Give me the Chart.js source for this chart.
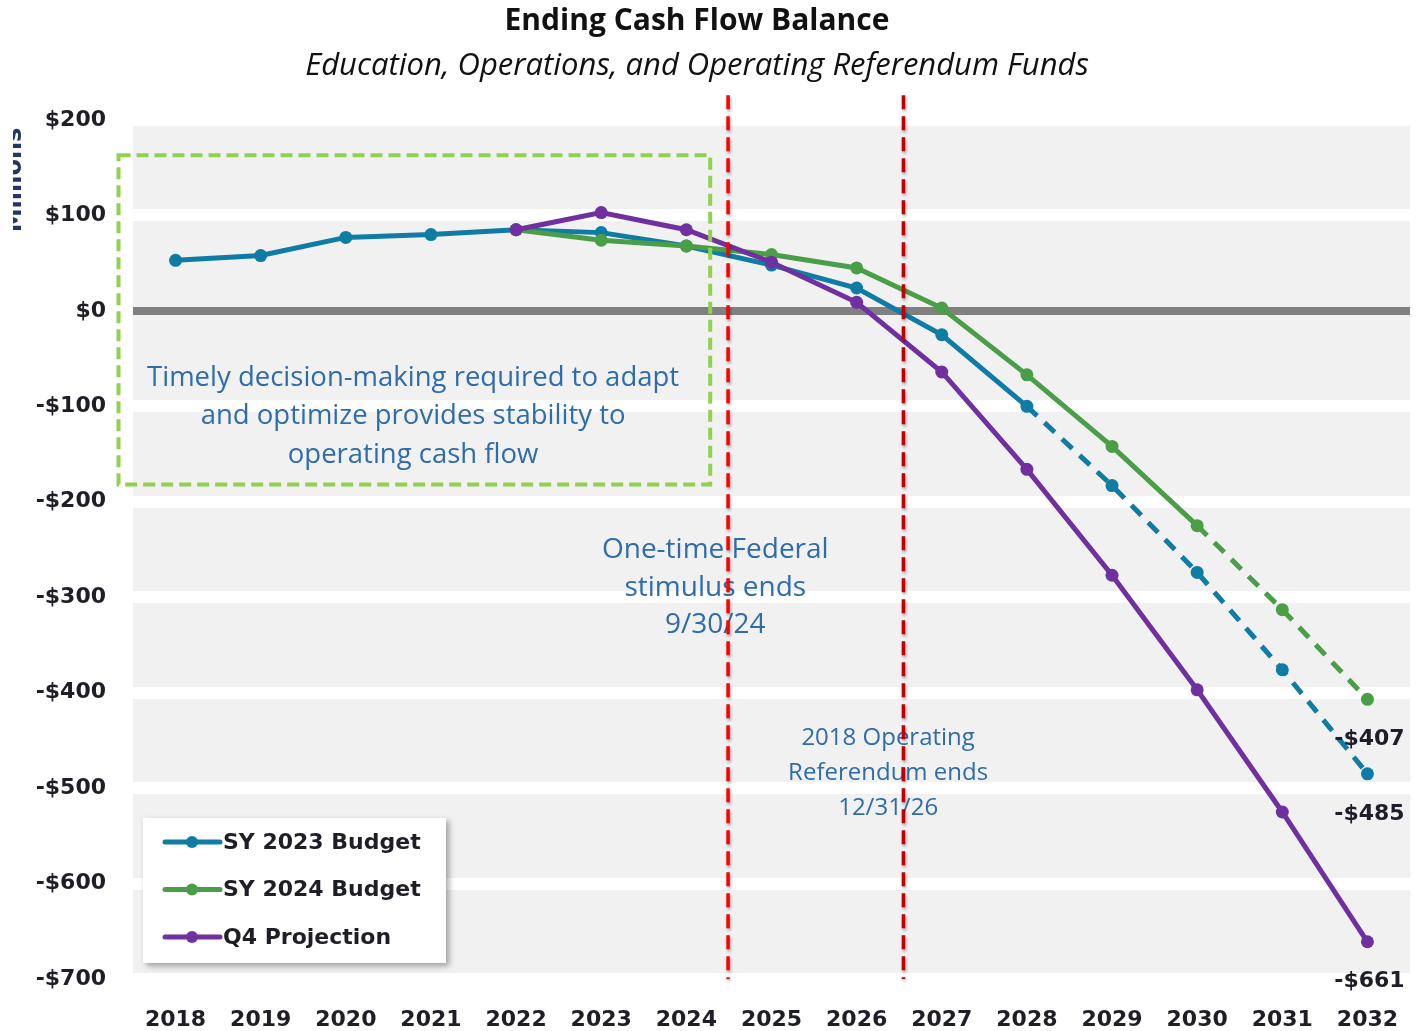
<!DOCTYPE html>
<html>
<head>
<meta charset="utf-8">
<script src="https://cdn.jsdelivr.net/npm/chart.js@4.4.1/dist/chart.umd.min.js"></script>
<style>
  html, body { margin: 0; padding: 0; background: #fff; }
  #wrap { width: 1418px; height: 1031px; position: relative; }
</style>
</head>
<body>
<div id="wrap"><canvas id="chart"></canvas></div>
<script>
'use strict';

const years = ['2018', '2019', '2020', '2021', '2022', '2023', '2024', '2025',
  '2026', '2027', '2028', '2029', '2030', '2031', '2032'];
const sy2023Budget = [53, 58, 77, 80, 85, 82, 68, 48, 24, -25, -100, -183, -274, -376, -485];
const sy2024Budget = [null, null, null, null, 85, 74, 68, 59, 45, 3, -67, -142, -225, -313, -407];
const q4Projection = [null, null, null, null, 85, 103, 85, 51, 9, -64, -166, -277, -397, -525, -661];
const seriesNames = ['SY 2023 Budget', 'SY 2024 Budget', 'Q4 Projection'];
const seriesColors = ['#0f7ca6', '#4a9e48', '#7030a0'];
const dashFrom = [10, 12, null]; // index where a series turns dashed
const yTicks = [200, 100, 0, -100, -200, -300, -400, -500, -600, -700];

const titleText = 'Ending Cash Flow Balance';
const subtitleText = 'Education, Operations, and Operating Referendum Funds';
const boxNote = ['Timely decision-making required to adapt', 'and optimize provides stability to', 'operating cash flow'];
const stimulusNote = ['One-time Federal', 'stimulus ends', '9/30/24'];
const referendumNote = ['2018 Operating', 'Referendum ends', '12/31/26'];

const tickFont = '"DejaVu Sans", sans-serif';
const noteFont = '"Open Sans", sans-serif';
const noteColor = '#2e6cab';

function money(v) {
  return (v < 0 ? '-$' : '$') + Math.abs(v);
}

const extras = {
  id: 'extras',
  beforeDraw(chart) {
    const { ctx, chartArea: a } = chart;
    ctx.save();
    ctx.fillStyle = '#f1f1f1';
    ctx.fillRect(a.left, a.top, a.right - a.left, a.bottom - a.top);
    ctx.restore();
  },
  afterDatasetsDraw(chart) {
    const { ctx, scales: { x, y } } = chart;
    ctx.save();

    // end labels
    ctx.font = 'bold 22px ' + tickFont;
    ctx.fillStyle = '#1e1e28';
    ctx.textAlign = 'center';
    ctx.textBaseline = 'middle';
    chart.data.datasets.forEach((ds, i) => {
      const last = ds.data.length - 1;
      const v = ds.data[last];
      ctx.fillText(money(v), x.getPixelForValue(last) + 2, y.getPixelForValue(v) + 40);
    });

    // notes
    function note(lines, xi, yv, size, step) {
      ctx.font = size + 'px ' + noteFont;
      ctx.fillStyle = noteColor;
      lines.forEach((t, k) => {
        ctx.fillText(t, x.getPixelForValue(xi), y.getPixelForValue(yv) + k * step);
      });
    }
    note(boxNote, 2.79, -70, 27.5, 38.5);
    note(stimulusNote, 6.34, -251, 28, 37.5);
    note(referendumNote, 8.37, -448, 24, 35);

    // green box
    ctx.strokeStyle = '#92d050';
    ctx.lineWidth = 4;
    ctx.setLineDash([12, 6]);
    const bx0 = x.getPixelForValue(-0.67), bx1 = x.getPixelForValue(6.28);
    const by0 = y.getPixelForValue(163), by1 = y.getPixelForValue(-182);
    ctx.strokeRect(bx0, by0, bx1 - bx0, by1 - by0);

    // red dashed markers
    ctx.setLineDash([14, 7]);
    ctx.lineWidth = 3.5;
    ctx.shadowColor = 'rgba(0,0,0,0.35)';
    ctx.shadowBlur = 3;
    ctx.shadowOffsetX = 1;
    ctx.shadowOffsetY = 2;
    [[6.49, '#ff0000'], [8.55, '#c00000']].forEach(([xi, c]) => {
      const px = x.getPixelForValue(xi);
      ctx.strokeStyle = c;
      ctx.beginPath();
      ctx.moveTo(px, y.getPixelForValue(226));
      ctx.lineTo(px, y.getPixelForValue(-700));
      ctx.stroke();
    });
    ctx.restore();
  },
  afterDraw(chart) {
    const { ctx, chartArea: a } = chart;
    ctx.save();
    // title and subtitle
    ctx.textAlign = 'center';
    ctx.textBaseline = 'middle';
    ctx.fillStyle = '#111';
    ctx.font = 'bold 30px "Open Sans", sans-serif';
    ctx.fillText(titleText, 697, 21);
    ctx.font = 'italic 31px "Open Sans", sans-serif';
    ctx.fillText(subtitleText, 697, 66);

    // axis title, clipped at the left edge like the source
    ctx.save();
    ctx.beginPath();
    ctx.rect(13, 100, 30, 160);
    ctx.clip();
    ctx.translate(21, 180);
    ctx.rotate(-Math.PI / 2);
    ctx.font = 'bold 24px ' + tickFont;
    ctx.fillStyle = '#1f3864';
    ctx.textBaseline = 'alphabetic';
    ctx.fillText('Millions', 0, 0);
    ctx.restore();

    // legend box
    const lx = a.left + 10, ly = a.bottom - 161, lw = 303, lh = 145;
    ctx.shadowColor = 'rgba(0,0,0,0.35)';
    ctx.shadowBlur = 6;
    ctx.shadowOffsetX = 3;
    ctx.shadowOffsetY = 3;
    ctx.fillStyle = '#fff';
    ctx.fillRect(lx, ly, lw, lh);
    ctx.shadowColor = 'transparent';
    ctx.font = 'bold 22px ' + tickFont;
    ctx.textAlign = 'left';
    chart.data.datasets.forEach((ds, i) => {
      const cy = ly + 24 + i * 47.5;
      ctx.strokeStyle = ds.borderColor;
      ctx.lineWidth = 5;
      ctx.lineCap = 'round';
      ctx.beginPath();
      ctx.moveTo(lx + 22, cy);
      ctx.lineTo(lx + 77, cy);
      ctx.stroke();
      ctx.fillStyle = ds.borderColor;
      ctx.beginPath();
      ctx.arc(lx + 49, cy, 6, 0, Math.PI * 2);
      ctx.fill();
      ctx.fillStyle = '#1e1e28';
      ctx.fillText(ds.label, lx + 80, cy + 1);
    });
    ctx.restore();
  }
};

const seriesData = [sy2023Budget, sy2024Budget, q4Projection];

new Chart(document.getElementById('chart').getContext('2d'), {
  type: 'line',
  data: {
    labels: years,
    datasets: seriesData.map((d, i) => ({
      label: seriesNames[i],
      data: d,
      borderColor: seriesColors[i],
      backgroundColor: seriesColors[i],
      borderWidth: 5,
      pointRadius: 6.5,
      pointHoverRadius: 6.5,
      pointBorderWidth: 0,
      tension: 0,
      fill: false,
      order: 2 - i,
      segment: {
        borderDash: c => (dashFrom[i] !== null && c.p0DataIndex >= dashFrom[i]) ? [14, 10] : undefined
      }
    }))
  },
  options: {
    responsive: true,
    maintainAspectRatio: false,
    animation: false,
    layout: { padding: { top: 120, right: 8, left: 0, bottom: 0 } },
    plugins: {
      legend: { display: false },
      title: { display: false },
      tooltip: { enabled: false }
    },
    scales: {
      x: {
        offset: true,
        grid: { display: false, drawTicks: false },
        border: { display: false },
        ticks: {
          font: { family: tickFont, size: 22, weight: 'bold' },
          color: '#1e1e28',
          padding: 28,
          maxRotation: 0,
          autoSkip: false
        },
        afterFit: s => { s.height = 52; s.paddingLeft = 0; s.paddingRight = 0; }
      },
      y: {
        min: -700,
        max: 200,
        afterBuildTicks: s => { s.ticks = yTicks.map(v => ({ value: v })); },
        grid: {
          drawTicks: false,
          color: c => c.tick && c.tick.value === 0 ? '#808080' : '#ffffff',
          lineWidth: c => c.tick && c.tick.value === 0 ? 8 : 12
        },
        border: { display: false },
        ticks: {
          font: { family: tickFont, size: 22, weight: 'bold' },
          color: '#1e1e28',
          padding: 27,
          callback: v => money(v)
        },
        afterFit: s => { s.width = 133; }
      }
    }
  },
  plugins: [extras]
});
</script>
</body>
</html>
